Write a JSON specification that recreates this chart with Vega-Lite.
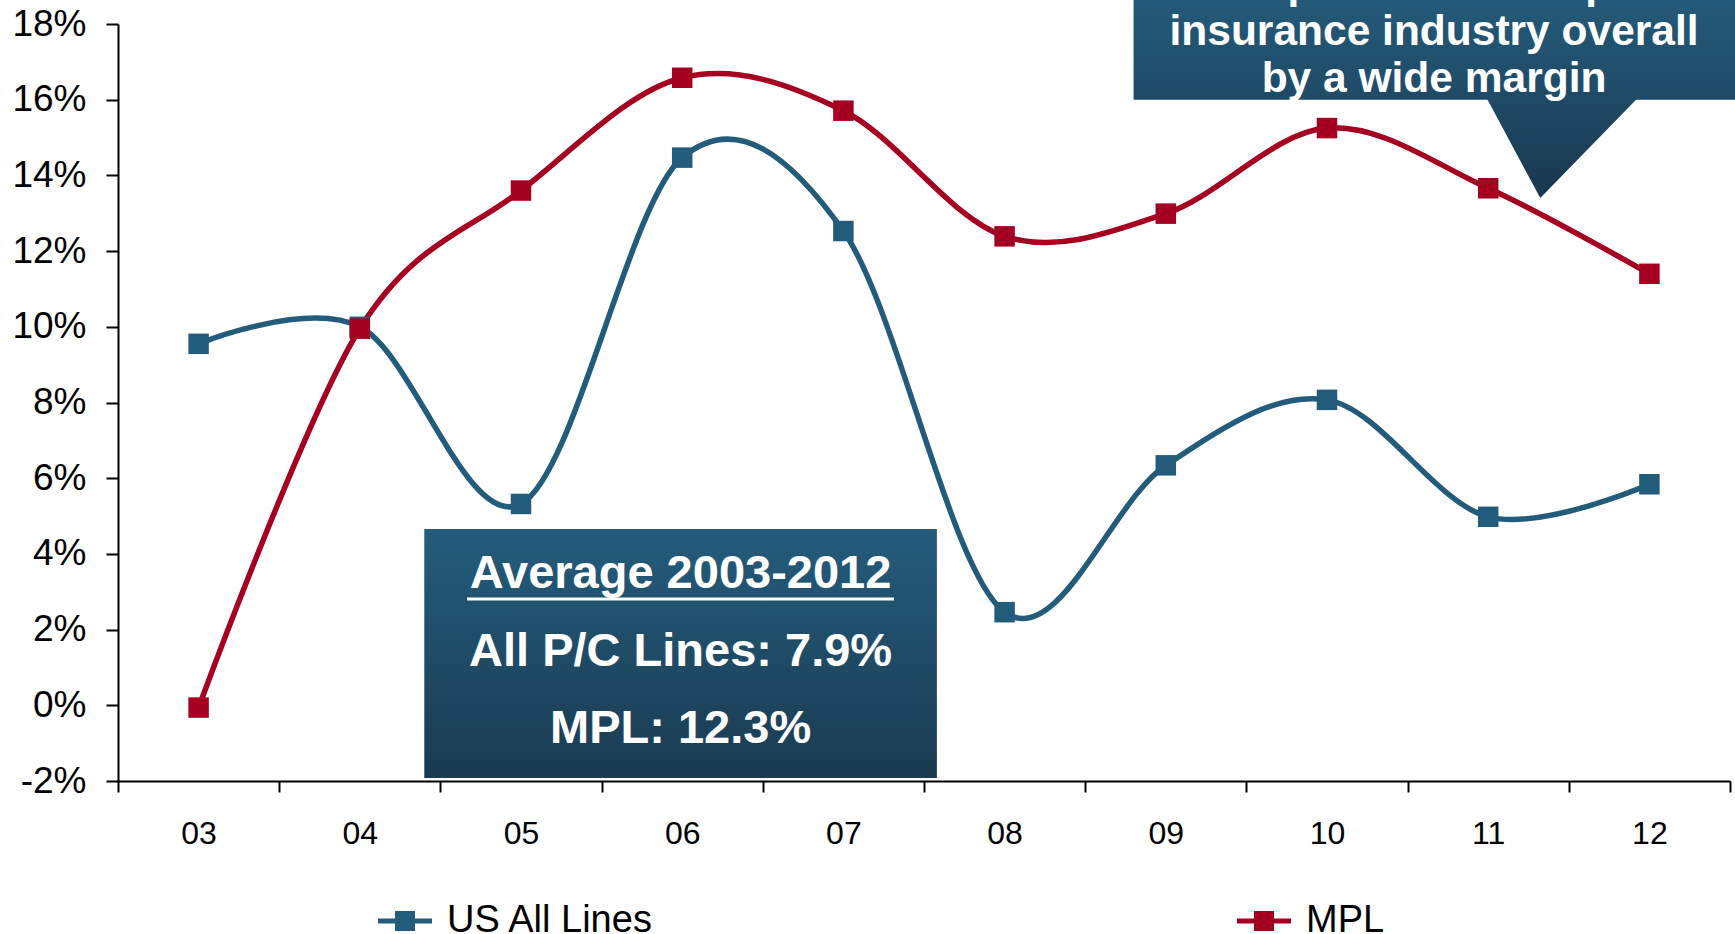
{
  "$schema": "https://vega.github.io/schema/vega-lite/v6.json",
  "autosize": {"type": "none"},
  "width": 1612,
  "height": 757,
  "padding": {"left": 118, "top": 24, "right": 5, "bottom": 153},
  "background": "white",
  "config": {
    "view": {"stroke": null},
    "font": "Liberation Sans",
    "axis": {
      "domainColor": "black",
      "domainWidth": 2,
      "tickColor": "black",
      "tickWidth": 2,
      "labelColor": "black",
      "labelFont": "Liberation Sans",
      "grid": false,
      "title": null
    },
    "legend": {
      "title": null,
      "orient": "none",
      "direction": "horizontal",
      "legendX": 260,
      "legendY": 870,
      "padding": 0,
      "columnPadding": 583,
      "symbolType": "M-1,-0.09H1V0.09H-1Z M-0.37,-0.37H0.37V0.37H-0.37Z",
      "symbolSize": 2916,
      "symbolStrokeWidth": 0,
      "symbolOpacity": 1,
      "labelFontSize": 38,
      "labelFont": "Liberation Sans",
      "labelColor": "black",
      "labelOffset": 15,
      "labelLimit": 400
    }
  },
  "datasets": {
    "returns": [
      {"year": "03", "series": "US All Lines", "value": 9.55},
      {"year": "04", "series": "US All Lines", "value": 10.0},
      {"year": "05", "series": "US All Lines", "value": 5.32},
      {"year": "06", "series": "US All Lines", "value": 14.47},
      {"year": "07", "series": "US All Lines", "value": 12.53},
      {"year": "08", "series": "US All Lines", "value": 2.46},
      {"year": "09", "series": "US All Lines", "value": 6.34},
      {"year": "10", "series": "US All Lines", "value": 8.07},
      {"year": "11", "series": "US All Lines", "value": 4.98},
      {"year": "12", "series": "US All Lines", "value": 5.84},
      {"year": "03", "series": "MPL", "value": -0.06},
      {"year": "04", "series": "MPL", "value": 9.95},
      {"year": "05", "series": "MPL", "value": 13.6},
      {"year": "06", "series": "MPL", "value": 16.58},
      {"year": "07", "series": "MPL", "value": 15.71},
      {"year": "08", "series": "MPL", "value": 12.39},
      {"year": "09", "series": "MPL", "value": 12.99},
      {"year": "10", "series": "MPL", "value": 15.25},
      {"year": "11", "series": "MPL", "value": 13.66},
      {"year": "12", "series": "MPL", "value": 11.4}
    ]
  },
  "layer": [
    {
      "data": {"name": "returns"},
      "encoding": {
        "x": {
          "field": "year",
          "type": "ordinal",
          "scale": {"paddingInner": 0, "paddingOuter": 0},
          "axis": {
            "tickBand": "extent",
            "tickSize": 11,
            "labelAngle": 0,
            "labelFontSize": 32,
            "labelPadding": 26
          }
        },
        "y": {
          "field": "value",
          "type": "quantitative",
          "scale": {"domain": [-2, 18], "nice": false, "zero": false},
          "axis": {
            "values": [-2, 0, 2, 4, 6, 8, 10, 12, 14, 16, 18],
            "labelExpr": "datum.value + '%'",
            "tickSize": 12,
            "labelFontSize": 37,
            "labelPadding": 20
          }
        },
        "color": {
          "field": "series",
          "type": "nominal",
          "scale": {"domain": ["US All Lines", "MPL"], "range": ["#235B7B", "#A50021"]}
        }
      },
      "layer": [
        {"mark": {"type": "line", "interpolate": "cardinal", "strokeWidth": 5.5}},
        {"mark": {"type": "point", "shape": "square", "filled": true, "size": 420, "opacity": 1}}
      ]
    },
    {
      "data": {"values": [{}]},
      "encoding": {
        "x": {"type": "quantitative", "scale": {"domain": [0, 10], "nice": false, "zero": false}, "axis": null},
        "y": {"type": "quantitative", "scale": {"domain": [-2, 18], "nice": false, "zero": false}, "axis": null}
      },
      "layer": [
        {
          "mark": {
            "type": "rect",
            "fill": {
              "gradient": "linear", "x1": 0, "y1": 0, "x2": 0, "y2": 1,
              "stops": [{"offset": 0, "color": "#245C7C"}, {"offset": 1, "color": "#1A3B51"}]
            }
          },
          "encoding": {
            "x": {"datum": 1.9, "type": "quantitative"},
            "x2": {"datum": 5.08},
            "y": {"datum": 4.66, "type": "quantitative"},
            "y2": {"datum": -1.92}
          }
        },
        {
          "mark": {"type": "text", "text": "Average 2003-2012", "font": "Liberation Sans", "fontWeight": "bold", "fontSize": 47, "color": "white", "align": "center", "baseline": "middle"},
          "encoding": {"x": {"datum": 3.49, "type": "quantitative"}, "y": {"datum": 3.47, "type": "quantitative"}}
        },
        {
          "mark": {"type": "text", "text": "All P/C Lines: 7.9%", "font": "Liberation Sans", "fontWeight": "bold", "fontSize": 47, "color": "white", "align": "center", "baseline": "middle"},
          "encoding": {"x": {"datum": 3.49, "type": "quantitative"}, "y": {"datum": 1.41, "type": "quantitative"}}
        },
        {
          "mark": {"type": "text", "text": "MPL: 12.3%", "font": "Liberation Sans", "fontWeight": "bold", "fontSize": 47, "color": "white", "align": "center", "baseline": "middle"},
          "encoding": {"x": {"datum": 3.49, "type": "quantitative"}, "y": {"datum": -0.63, "type": "quantitative"}}
        },
        {
          "mark": {"type": "rule", "color": "white", "strokeWidth": 3},
          "encoding": {
            "x": {"datum": 2.165, "type": "quantitative"},
            "x2": {"datum": 4.814},
            "y": {"datum": 2.81, "type": "quantitative"}
          }
        },
        {
          "mark": {
            "type": "rect",
            "fill": {
              "gradient": "linear", "x1": 0, "y1": 0, "x2": 0, "y2": 1,
              "stops": [{"offset": 0, "color": "#245C7C"}, {"offset": 1, "color": "#1F4A66"}]
            }
          },
          "encoding": {
            "x": {"datum": 6.3, "type": "quantitative"},
            "x2": {"datum": 10.2},
            "y": {"datum": 19.0, "type": "quantitative"},
            "y2": {"datum": 16.0}
          }
        },
        {
          "mark": {
            "type": "point",
            "shape": "M-1,-0.67L1,-0.67L-0.29,0.655Z",
            "size": 22500,
            "filled": true,
            "opacity": 1,
            "strokeWidth": 0,
            "fill": {
              "gradient": "linear", "x1": 0, "y1": 0, "x2": 0, "y2": 1,
              "stops": [{"offset": 0, "color": "#1F4A66"}, {"offset": 1, "color": "#19374C"}]
            }
          },
          "encoding": {"x": {"datum": 8.958, "type": "quantitative"}, "y": {"datum": 14.7, "type": "quantitative"}}
        },
        {
          "mark": {"type": "text", "text": "outperformed the p/c", "font": "Liberation Sans", "fontWeight": "bold", "fontSize": 42.5, "color": "white", "align": "center", "baseline": "middle"},
          "encoding": {"x": {"datum": 8.164, "type": "quantitative"}, "y": {"datum": 19.04, "type": "quantitative"}}
        },
        {
          "mark": {"type": "text", "text": "insurance industry overall", "font": "Liberation Sans", "fontWeight": "bold", "fontSize": 42.5, "color": "white", "align": "center", "baseline": "middle"},
          "encoding": {"x": {"datum": 8.164, "type": "quantitative"}, "y": {"datum": 17.79, "type": "quantitative"}}
        },
        {
          "mark": {"type": "text", "text": "by a wide margin", "font": "Liberation Sans", "fontWeight": "bold", "fontSize": 42.5, "color": "white", "align": "center", "baseline": "middle"},
          "encoding": {"x": {"datum": 8.164, "type": "quantitative"}, "y": {"datum": 16.56, "type": "quantitative"}}
        }
      ]
    }
  ],
  "resolve": {"scale": {"x": "independent", "y": "independent"}, "axis": {"x": "independent", "y": "independent"}}
}
